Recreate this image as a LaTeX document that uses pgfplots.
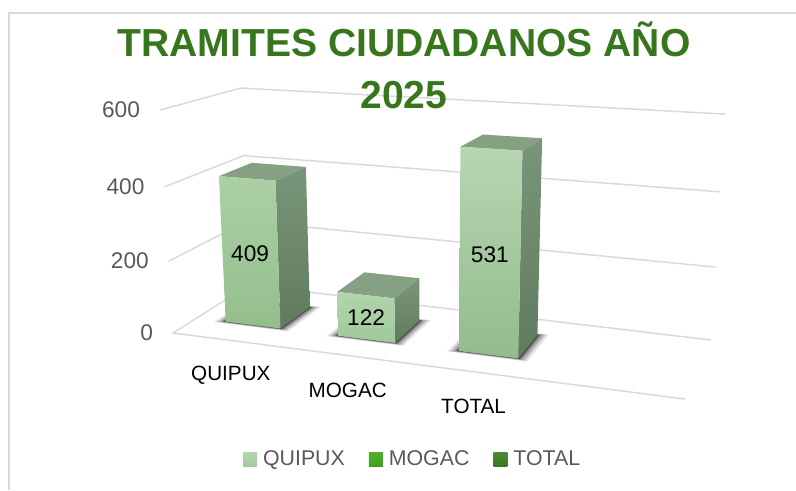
\documentclass[border=0pt]{standalone}
\usepackage{fontspec}
\setmainfont{Liberation Sans}
\usepackage{pgfplots}
\usepackage{pgfplotstable}
\pgfplotsset{compat=1.18}

\definecolor{titlegreen}{HTML}{38761D}
\definecolor{gridc}{HTML}{D9D9D9}
\definecolor{ticktext}{HTML}{595959}
\definecolor{sidetop}{HTML}{7A967A}
\definecolor{sidebot}{HTML}{5F7A5C}
\definecolor{lidc}{HTML}{86A083}
\definecolor{leg1a}{HTML}{B5D6B0}
\definecolor{leg1b}{HTML}{A2C89C}
\definecolor{leg2a}{HTML}{52AE30}
\definecolor{leg2b}{HTML}{42A022}
\definecolor{leg3a}{HTML}{4E8A35}
\definecolor{leg3b}{HTML}{347A18}
\definecolor{f1a}{HTML}{ABD0A5}
\definecolor{f1b}{HTML}{94BD8C}
\definecolor{f2a}{HTML}{B1D5AC}
\definecolor{f2b}{HTML}{A0C89A}
\definecolor{f3a}{HTML}{B6D6B2}
\definecolor{f3b}{HTML}{93BB8D}

% u: category position 0..4, d: depth 0..1, v: value 0..600
\pgfplotsset{
  /pgf/declare function={
    ww(\U,\D,\T)=1-0.0813*\U+0.1128*\D-0.0485*\T;
    px(\U,\D,\T)=(173+456.3*\U+104.1*\D-20.8*\T)/ww(\U,\D,\T);
    py(\U,\D,\T)=(333+33.6*\U-15.9*\D+(-228.3-15.2*\U+4.9*\D)*\T)/ww(\U,\D,\T);
  },
  /pgfplots/table/proj/.style={
    x expr={px(\thisrow{u}/4,\thisrow{d},\thisrow{v}/600)},
    y expr={py(\thisrow{u}/4,\thisrow{d},\thisrow{v}/600)},
  },
  /pgfplots/table/midproj/.style={
    x expr={px(\thisrow{u}/4,\thisrow{d},\thisrow{v}/1200)},
    y expr={py(\thisrow{u}/4,\thisrow{d},\thisrow{v}/1200)},
  },
  /pgfplots/table/faceproj/.style 2 args={
    x expr={px((#1-0.235+0.47*\thisrow{a})/4,\thisrow{d},#2*\thisrow{h}/600)},
    y expr={py((#1-0.235+0.47*\thisrow{a})/4,\thisrow{d},#2*\thisrow{h}/600)},
  },
  /pgfplots/table/shadeproj/.style n args={3}{
    x expr={px((#1+\thisrow{a}*(0.235+#2))/4,0.505+\thisrow{b}*(0.215+#3),0)},
    y expr={py((#1+\thisrow{a}*(0.235+#2))/4,0.505+\thisrow{b}*(0.215+#3),0)},
  },
  legendsq/.style={legend image code/.code={\path[##1] (0pt,-5.25pt) rectangle (10.5pt,5.25pt);}},
}

\pgfplotstableread{
name u d v
QUIPUX 0.487 0.29 409
MOGAC 1.442 0.29 122
TOTAL 2.430 0.29 531
}\labelpos

\pgfplotstableread{
name u d v
QUIPUX 0.487 0 0
MOGAC 1.442 0 0
TOTAL 2.430 0 0
}\cats

\pgfplotstableread{
u d v
0 0 0
0 0 200
0 0 400
0 0 600
}\ticksv

\pgfplotstableread{
a d h
0 0.29 0
1 0.29 0
1 0.29 1
0 0.29 1
}\frontface
\pgfplotstableread{
a d h
1 0.29 0
1 0.72 0
1 0.72 1
1 0.29 1
}\sideface
\pgfplotstableread{
a d h
0 0.29 1
1 0.29 1
1 0.72 1
0 0.72 1
}\lidface
\pgfplotstableread{
a b
-1 -1
1 -1
1 1
-1 1
}\foot

\newcommand{\drawshadow}[1]{%
  \addplot[forget plot,draw=none,fill=black,fill opacity=0.12] table[shadeproj={#1}{0.08}{0.03}]{\foot};
  \addplot[forget plot,draw=none,fill=black,fill opacity=0.2] table[shadeproj={#1}{0.055}{0.02}]{\foot};
  \addplot[forget plot,draw=none,fill=black,fill opacity=0.3] table[shadeproj={#1}{0.03}{0.012}]{\foot};
  \addplot[forget plot,draw=none,fill=black,fill opacity=0.4] table[shadeproj={#1}{0.012}{0.005}]{\foot};
}
% #1 centre, #2 value, #3 front top colour, #4 front bottom colour
\newcommand{\drawbar}[4]{%
  \addplot[forget plot,draw=none,fill=lidc] table[faceproj={#1}{#2}]{\lidface};
  \addplot[forget plot,draw=none,top color=sidetop,bottom color=sidebot] table[faceproj={#1}{#2}]{\sideface};
  \addplot[forget plot,draw=none,top color=#3,bottom color=#4] table[faceproj={#1}{#2}]{\frontface};
}

\begin{document}
\begin{tikzpicture}
\begin{axis}[
  scale only axis, width=597pt, height=367.5pt,
  xmin=0, xmax=796, ymin=0, ymax=490, y dir=reverse,
  hide axis,
  /pgf/number format/assume math mode=true,
  legend style={at={(axis cs:413,459)},anchor=center,draw=none,fill=none,
    font=\fontsize{16}{18}\selectfont,text=ticktext,legend columns=3,
    /tikz/every odd column/.append style={column sep=2.5pt},
    /tikz/every even column/.append style={column sep=16pt}},
]
% keep the whole canvas in the picture
\path (axis cs:0,0) (axis cs:796,490);

% legend
\addlegendimage{legendsq,draw=none,top color=leg1a,bottom color=leg1b}
\addlegendentry{QUIPUX}
\addlegendimage{legendsq,draw=none,top color=leg2a,bottom color=leg2b}
\addlegendentry{MOGAC}
\addlegendimage{legendsq,draw=none,top color=leg3a,bottom color=leg3b}
\addlegendentry{TOTAL}

% outer frame
\addplot[forget plot,gridc,line width=1.1pt] coordinates {(9,490) (9,13) (796,13)};

% floor and grid lines
\addplot[forget plot,gridc,line width=1.1pt] table[proj,row sep=\\]{u d v\\ 4 0 0\\ 0 0 0\\ 0 1 0\\ 4 1 0\\};
\addplot[forget plot,gridc,line width=1.1pt] table[proj,row sep=\\]{u d v\\ 0 0 200\\ 0 1 200\\ 4 1 200\\};
\addplot[forget plot,gridc,line width=1.1pt] table[proj,row sep=\\]{u d v\\ 0 0 400\\ 0 1 400\\ 4 1 400\\};
\addplot[forget plot,gridc,line width=1.1pt] table[proj,row sep=\\]{u d v\\ 0 0 600\\ 0 1 600\\ 4 1 600\\};

% bars
\drawshadow{0.487}
\drawbar{0.487}{409}{f1a}{f1b}
\drawshadow{1.442}
\drawbar{1.442}{122}{f2a}{f2b}
\drawshadow{2.430}
\drawbar{2.430}{531}{f3a}{f3b}

% data labels
\addplot[forget plot,draw=none,
  nodes near coords, point meta=explicit,
  nodes near coords style={anchor=center,text=black,yshift=-0.5pt,font=\fontsize{17}{20}\selectfont}]
  table[midproj,meta=v]{\labelpos};

% category labels
\addplot[forget plot,draw=none,
  nodes near coords, point meta=explicit symbolic,
  nodes near coords style={anchor=center,text=black,yshift=-26.25pt,font=\fontsize{15.5}{18}\selectfont}]
  table[proj,meta=name]{\cats};

% value axis labels
\addplot[forget plot,draw=none,
  nodes near coords, point meta=explicit,
  nodes near coords style={anchor=east,text=ticktext,xshift=-11.5pt,font=\fontsize{17}{20}\selectfont}]
  table[proj,meta=v]{\ticksv};

% title
\node[text=titlegreen,font=\fontsize{29.3}{39}\bfseries\selectfont,align=center,anchor=center]
  at (axis cs:404,65) {TRAMITES CIUDADANOS AÑO\\2025};
\end{axis}
\end{tikzpicture}
\end{document}
